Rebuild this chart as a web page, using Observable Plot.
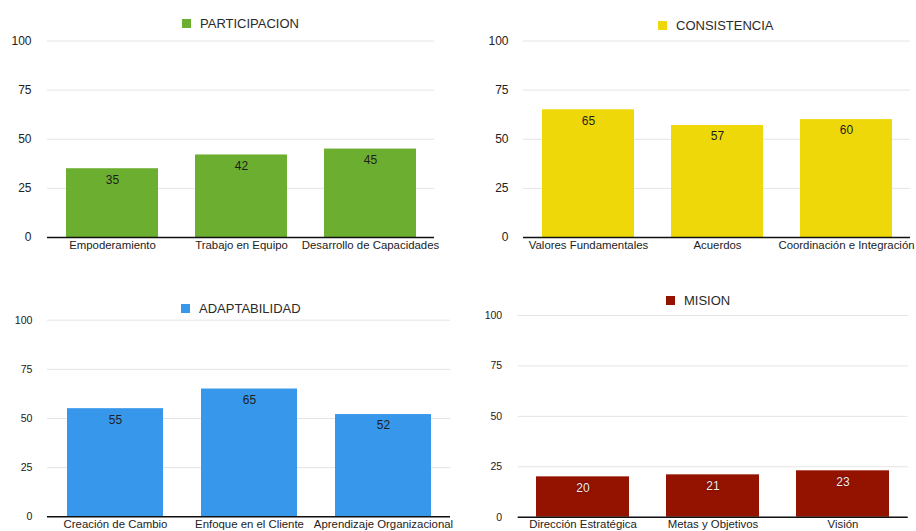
<!DOCTYPE html>
<html>
<head>
<meta charset="utf-8">
<script src="https://cdn.jsdelivr.net/npm/d3@7"></script>
<script src="https://cdn.jsdelivr.net/npm/@observablehq/plot@0.6"></script>
<style>
  html, body { margin: 0; padding: 0; background: #fff; }
  #board { position: relative; width: 916px; height: 531px; overflow: hidden; font-family: "Liberation Sans", Arial, Helvetica, sans-serif; }
  .panel { position: absolute; }
  .legend { position: absolute; display: flex; align-items: center; font-size: 13px; color: #2a2a2a; white-space: nowrap; }
  .legend .sw { width: 9px; height: 9px; margin-right: 9px; }
  .light-labels g[aria-label="text"] text { text-shadow: 0 0 1.5px rgba(40,0,0,0.9); }
</style>
</head>
<body>
<div id="board"></div>
<script>
// Scores per dimension, 0–100 scale
const yTicks = [0, 25, 50, 75, 100];

const participacionCats = ["Empoderamiento", "Trabajo en Equipo", "Desarrollo de Capacidades"];
const participacionVals = [35, 42, 45];

const consistenciaCats = ["Valores Fundamentales", "Acuerdos", "Coordinación e Integración"];
const consistenciaVals = [65, 57, 60];

const adaptabilidadCats = ["Creación de Cambio", "Enfoque en el Cliente", "Aprendizaje Organizacional"];
const adaptabilidadVals = [55, 65, 52];

const misionCats = ["Dirección Estratégica", "Metas y Objetivos", "Visión"];
const misionVals = [20, 21, 23];

const titles = ["PARTICIPACION", "CONSISTENCIA", "ADAPTABILIDAD", "MISION"];
const colors = ["#6cae30", "#eed80a", "#3797ea", "#941200"];

const board = document.getElementById("board");

function panel({cats, vals, title, color, labelFill, light, box, m, yFont, yPad, legend}) {
  const data = cats.map((c, i) => ({cat: c, value: vals[i]}));
  const wrap = document.createElement("div");
  wrap.className = "panel" + (light ? " light-labels" : "");
  wrap.style.left = box.left + "px";
  wrap.style.top = box.top + "px";

  const chart = Plot.plot({
    width: box.w,
    height: box.h,
    marginLeft: m[0], marginRight: m[1], marginTop: m[2], marginBottom: m[3],
    style: {fontFamily: "'Liberation Sans', Arial, Helvetica, sans-serif", background: "transparent", overflow: "visible"},
    x: {domain: cats, paddingInner: 0.287, paddingOuter: 0.1435, label: null},
    y: {domain: [0, 100], label: null},
    marks: [
      Plot.gridY(yTicks, {stroke: "#e4e4e4", strokeOpacity: 1, strokeWidth: 1}),
      Plot.axisY(yTicks, {tickSize: 0, tickPadding: yPad, fontSize: yFont, color: "#222", label: null}),
      Plot.barY(data, {x: "cat", y: "value", fill: color}),
      Plot.ruleY([0], {stroke: "#111", strokeWidth: 1.5}),
      Plot.axisX({tickSize: 0, tickPadding: 3, fontSize: 11.4, color: "#222", label: null}),
      Plot.text(data, {x: "cat", y: "value", text: d => String(d.value), dy: 11, fontSize: 12, fill: labelFill})
    ]
  });
  wrap.appendChild(chart);
  board.appendChild(wrap);

  const lg = document.createElement("div");
  lg.className = "legend";
  lg.style.left = legend.left + "px";
  lg.style.top = legend.top + "px";
  const sw = document.createElement("span");
  sw.className = "sw";
  sw.style.background = color;
  const tx = document.createElement("span");
  tx.textContent = title;
  lg.appendChild(sw);
  lg.appendChild(tx);
  board.appendChild(lg);
}

panel({cats: participacionCats, vals: participacionVals, title: titles[0], color: colors[0], labelFill: "#1e1e1e",
  box: {left: 0, top: 30, w: 458, h: 230}, m: [47, 24, 10.5, 23], yFont: 12, yPad: 16,
  legend: {left: 182, top: 16}});

panel({cats: consistenciaCats, vals: consistenciaVals, title: titles[1], color: colors[1], labelFill: "#1e1e1e",
  box: {left: 458, top: 30, w: 458, h: 230}, m: [65, 6, 10.5, 23], yFont: 12, yPad: 15,
  legend: {left: 658, top: 18}});

panel({cats: adaptabilidadCats, vals: adaptabilidadVals, title: titles[2], color: colors[2], labelFill: "#1e1e1e",
  box: {left: 0, top: 290, w: 458, h: 241}, m: [47, 8, 29.7, 14.7], yFont: 10.6, yPad: 15,
  legend: {left: 181, top: 301}});

panel({cats: misionCats, vals: misionVals, title: titles[3], color: colors[3], labelFill: "#f5ecec", light: true,
  box: {left: 458, top: 290, w: 458, h: 241}, m: [59.7, 8.3, 25, 14.3], yFont: 10.5, yPad: 16,
  legend: {left: 666, top: 293}});
</script>
</body>
</html>
